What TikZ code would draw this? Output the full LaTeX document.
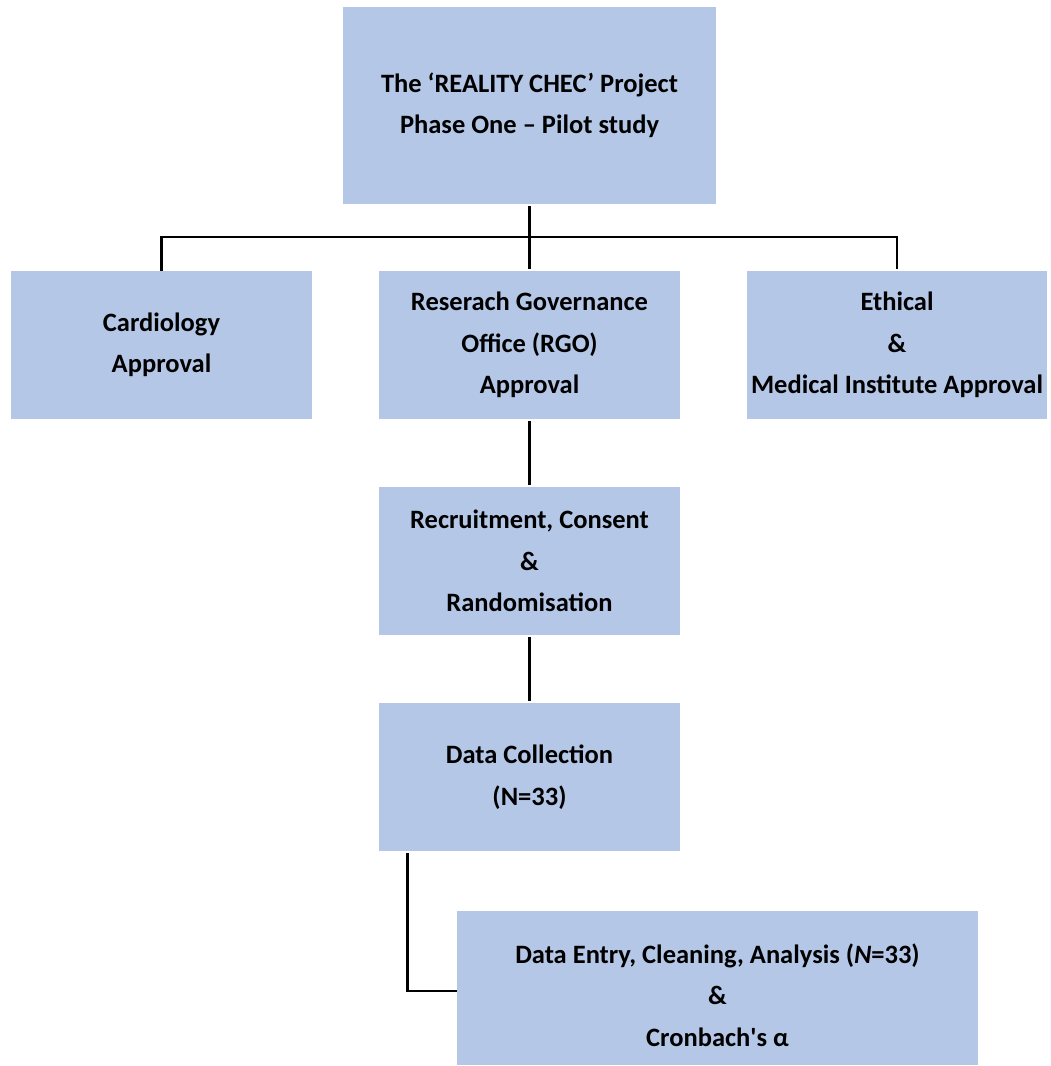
\documentclass[tikz,border=0pt]{standalone}
\usepackage{fontspec}
\setmainfont{Carlito}
\begin{document}
\begin{tikzpicture}[x=1pt,y=-1pt,
  box/.style={fill=boxblue, draw=none, inner sep=0pt},
  label text/.style={align=center, inner sep=0pt,
    font=\bfseries\fontsize{26.5}{41.5}\selectfont},
  link/.style={draw=black, line width=2.8pt, shorten >=2pt, shorten <=2pt}]
\definecolor{boxblue}{HTML}{B4C7E7}
\useasboundingbox (0,0) rectangle (1051,1066);

% project title
\node[box, label text, minimum width=373pt, minimum height=197pt] (top) at (529.5,105.5)
  {The ‘REALITY CHEC’ Project\\Phase One – Pilot study};

% approvals
\node[box, label text, minimum width=301pt, minimum height=148pt] (card) at (161.5,345)
  {Cardiology\\Approval};
\node[box, label text, minimum width=301pt, minimum height=148pt] (rgo) at (529.5,345)
  {Reserach Governance\\Office (RGO)\\Approval};
\node[box, label text, minimum width=300pt, minimum height=148pt] (eth) at (897,345)
  {Ethical\\\&\\Medical Institute Approval};

% study flow
\node[box, label text, minimum width=301pt, minimum height=148pt] (rec) at (529.5,561)
  {Recruitment, Consent\\\&\\Randomisation};
\node[box, label text, minimum width=301pt, minimum height=148pt] (dc) at (529.5,777)
  {Data Collection\\(N=33)};
\node[box, minimum width=521pt, minimum height=154pt] (dea) at (717.5,988) {};
\node[label text] (deatext) at (717.5,995)
  {Data Entry, Cleaning, Analysis (\textit{N}=33)\\\&\\Cronbach\textquotesingle s α};

% connectors
\draw[link] (top.south) -- (rgo.north);
\coordinate (bar) at (529.5,237);
\draw[link, shorten <=0pt] (card.north) |- (bar) -| (eth.north);
\draw[link] (rgo.south) -- (rec.north);
\draw[link] (rec.south) -- (dc.north);
\draw[link, shorten >=0pt] ([xshift=29pt]dc.south west) |- ([yshift=-3pt]dea.west);
\end{tikzpicture}
\end{document}
